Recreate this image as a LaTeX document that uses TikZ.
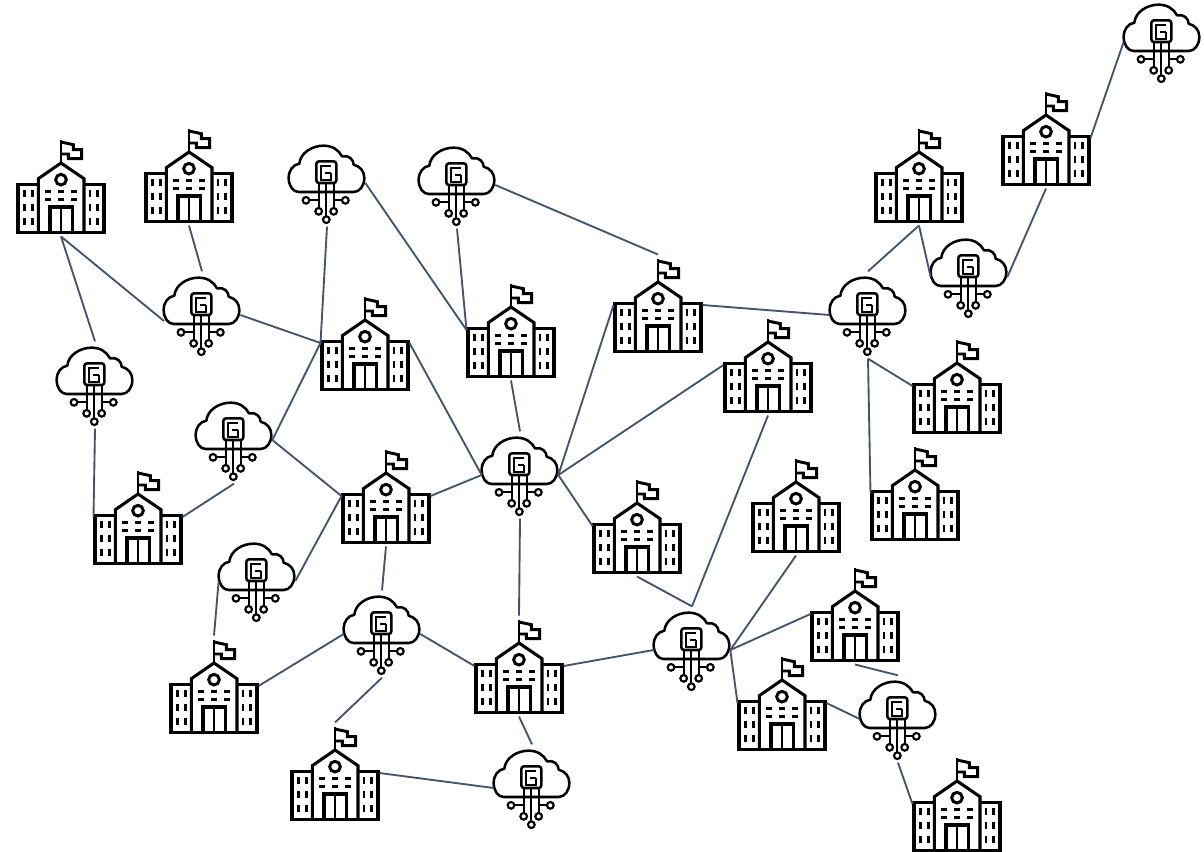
\documentclass[tikz,border=0pt]{standalone}
\definecolor{edgecol}{HTML}{44546A}
\tikzset{
  icon/.style={line width=2.3pt,black,line join=miter},
  flagline/.style={line width=2.2pt,black,line join=miter},
  cloudline/.style={line width=1.9pt,black,line join=round},
  thinicon/.style={line width=1.6pt,black},
  conn/.style={edgecol,line width=1.4pt},
  schoolbox/.style={rectangle,inner sep=0pt,outer sep=0pt,minimum width=66.75pt,minimum height=75.75pt},
  cloudbox/.style={rectangle,inner sep=0pt,outer sep=0pt,minimum width=57.5pt,minimum height=65.5pt},
  schoolicon/.pic={
    \begin{scope}[x=.25pt,y=-.25pt,shift={(-138,-144)}]
      \draw[icon] (9,140) rectangle (267,283);
      \fill[white] (70,132) rectangle (207,279);
      \draw[icon] (70,283) -- (70,122) -- (138,75) -- (207,122) -- (207,283);
      \draw[flagline] (138,75) -- (138,5);
      \draw[flagline] (138,12) -- (175,20) -- (175,35) -- (200,35) -- (200,62) -- (160,62) -- (160,48) -- (138,48);
      \draw[flagline] (138,125) circle (16);
      \draw[icon] (105,283) -- (105,207) -- (172,207) -- (172,283);
      \draw[flagline] (138,207) -- (138,283);
      \foreach \yy in {160,185} \foreach \xx in {90,130,168}
        \draw[line width=2.2pt,black] (\xx,\yy) -- ++(18,0);
      \foreach \yy in {157,198,240} \foreach \xx in {28,52,225,248}
        \draw[line width=2.2pt,black] (\xx,\yy) -- ++(0,20);
    \end{scope}
  },
  cloudicon/.pic={
    \begin{scope}[x=.25pt,y=-.25pt,shift={(-120,-120)}]
      \draw[cloudline] (35,147) .. controls (18,147) and (5,128) .. (5,105)
        .. controls (5,82) and (18,65) .. (37,62) .. controls (40,30) and (75,8) .. (110,8)
        .. controls (135,8) and (155,20) .. (165,40) .. controls (185,35) and (200,50) .. (200,65)
        .. controls (220,70) and (232,85) .. (232,105) .. controls (232,128) and (218,147) .. (200,147) -- cycle;
      \fill[white] (88,55) rectangle (148,120);
      \draw[cloudline,rounded corners=2pt] (88,55) rectangle (148,120);
      \draw[thinicon] (132,90) -- (114,90);
      \draw[thinicon] (132,90) -- (132,110) -- (103,110) -- (103,69) -- (132,69);
      \draw[thinicon] (97,120) -- (97,197);
      \draw[thinicon] (118,120) -- (118,222);
      \draw[thinicon] (140,120) -- (140,197);
      \draw[thinicon] (65,172) -- (97,172);
      \draw[thinicon] (140,172) -- (167,172);
      \draw[thinicon,fill=white] (57,172) circle (10);
      \draw[thinicon,fill=white] (175,172) circle (10);
      \draw[thinicon,fill=white] (95,205) circle (10);
      \draw[thinicon,fill=white] (140,205) circle (10);
      \draw[thinicon,fill=white] (118,230) circle (10);
    \end{scope}
  }
}
\begin{document}
\begin{tikzpicture}[x=.75pt,y=-.75pt]
\useasboundingbox (0,0) rectangle (1204,851);
\foreach \n/\px/\py in {s1/61/186,s2/189/175,s3/365/343,s4/511/330,s5/658/305,s6/768/365,s7/919/175,s8/1046/138,s9/957/386,s10/915/493,s11/796/505,s12/637/526,s13/386/496,s14/138/517,s15/214/686,s16/519/666,s17/855/614,s18/782/703,s19/957/804,s20/335/773}{
  \node[schoolbox] (\n) at (\px,\py) {};
  \pic at (\px,\py) {schoolicon};
}
\foreach \n/\px/\py in {ca/1162/42,cb/327/183,cc/457/185,cd/202/315,ce/95/385,cf/234/440,cg/520/475,ch/868/315,ci/969/277,cj/257/581,ck/382/634,cl/692/650,cm/898/719,cn/532/788}{
  \node[cloudbox] (\n) at (\px,\py) {};
  \pic at (\px,\py) {cloudicon};
}
\coordinate (cdw) at (164,321);
\foreach \a/\b in {
  s1.south/ce.north, s1.south/cdw, s2.south/cd.north, cd.east/s3.west,
  cb.south/s3.west, s3.west/cf.east, cb.east/s4.west, cc.south/s4.west,
  cc.east/s5.north, s4.south/cg.north, s3.east/cg.west, s13.east/cg.west,
  cf.east/s13.west, s13.west/cj.east, cf.south/s14.east, ce.south/s14.west,
  cj.west/s15.north, s13.south/ck.north, s15.east/ck.west, ck.east/s16.west,
  ck.south/s20.north, s20.east/cn.west, s16.south/cn.north, cg.south/s16.north,
  s16.east/cl.west, cg.east/s5.west, cg.east/s6.west, cg.east/s12.west,
  s5.east/ch.west, s6.south/cl.north, s12.south/cl.north, s11.south/cl.east,
  s17.west/cl.east, cl.east/s18.west, s18.east/cm.west, s17.south/cm.north,
  cm.south/s19.west, ch.north/s7.south, s7.south/ci.west, ci.east/s8.south,
  s8.east/ca.west, ch.south/s9.west, ch.south/s10.west}{
  \draw[conn] (\a) -- (\b);
}
\end{tikzpicture}
\end{document}
